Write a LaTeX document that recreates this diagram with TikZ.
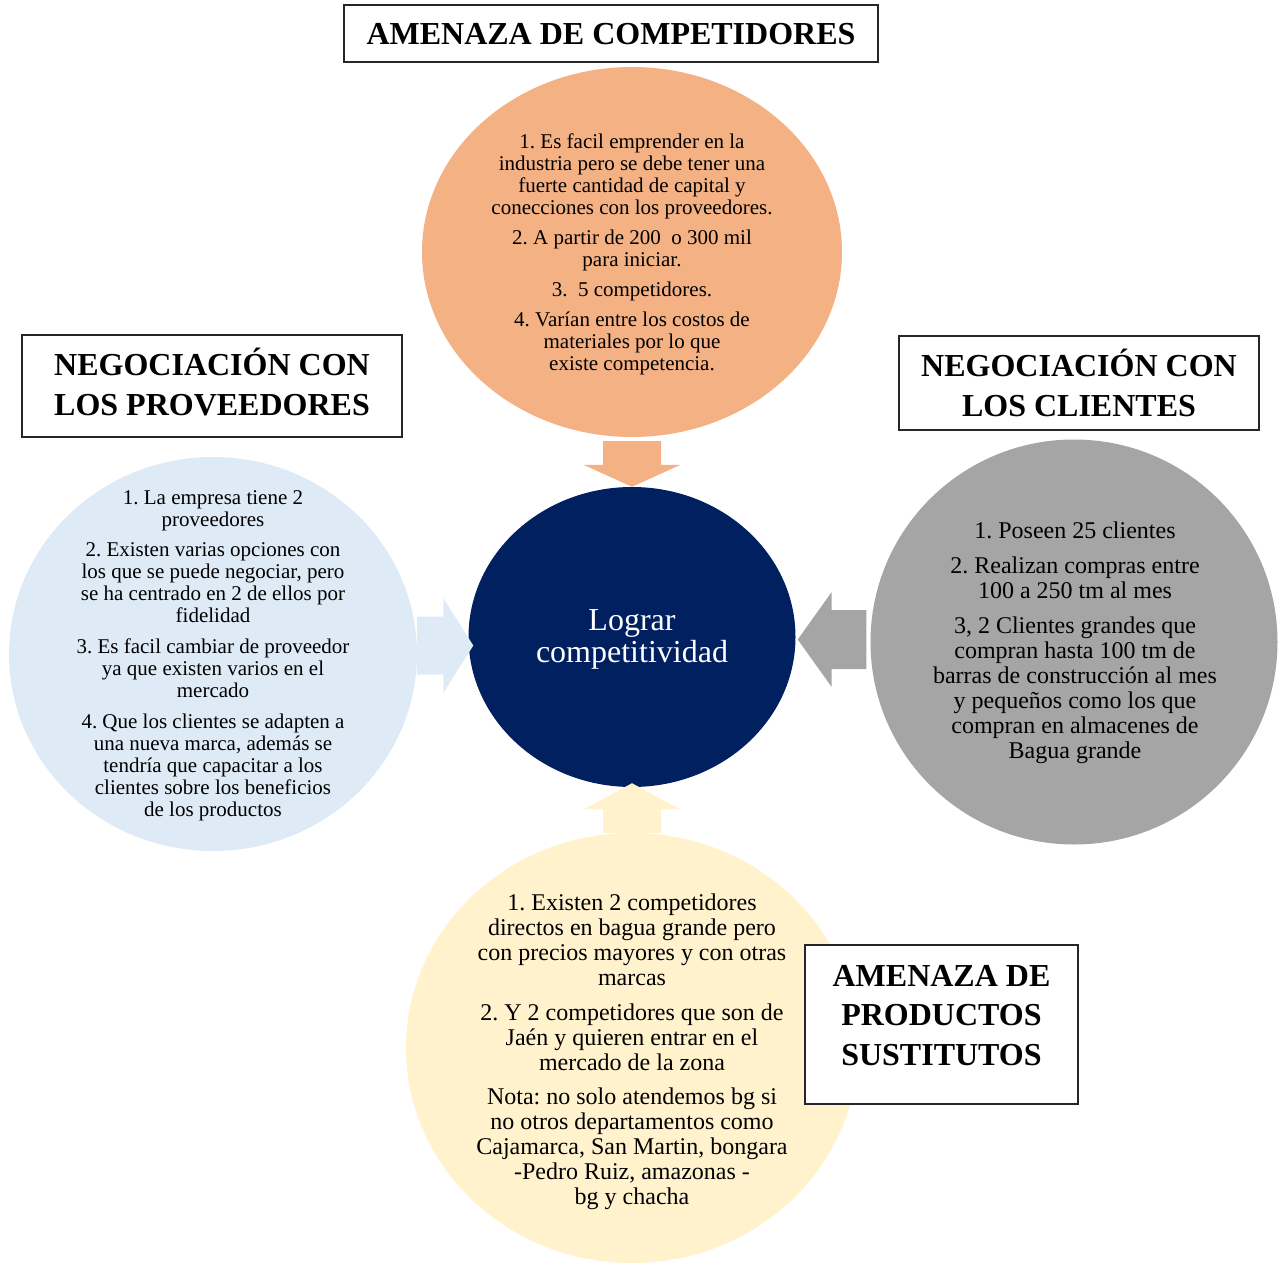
\documentclass[tikz,border=0pt]{standalone}
\usepackage{fontspec}
\setmainfont{Liberation Serif}
\usetikzlibrary{shapes.geometric,calc}
\frenchspacing

\definecolor{orangefill}{HTML}{F4B183}
\definecolor{bluefill}{HTML}{DEEBF7}
\definecolor{grayfill}{HTML}{A5A5A5}
\definecolor{creamfill}{HTML}{FFF2CC}
\definecolor{navyfill}{HTML}{002060}
\definecolor{framecol}{HTML}{262626}

% block arrow: #1 style, #2 start, #3 tip, #4 shaft half width, #5 head half width, #6 head length
\newcommand\blockarrow[6]{%
  \path (#2) coordinate (ba-s) ($(#3)!#6!(#2)$) coordinate (ba-h);
  \fill[#1] ($(ba-s)!#4!90:(ba-h)$) -- ($(ba-h)!#4!-90:(ba-s)$)
    -- ($(ba-h)!#5!-90:(ba-s)$) -- (#3) -- ($(ba-h)!#5!90:(ba-s)$)
    -- ($(ba-h)!#4!90:(ba-s)$) -- ($(ba-s)!#4!-90:(ba-h)$) -- cycle;
}

% multi-line texts are placed by the baseline of their last line
\tikzset{
  bubble/.style={ellipse, inner sep=0pt, draw=none},
  titlebox/.style={rectangle, draw=framecol, line width=1.2pt, fill=white, inner sep=0pt},
  titletext/.style={align=center, inner sep=0pt, anchor=base,
    font=\fontsize{32}{39.5}\selectfont\bfseries},
  body/.style={align=center, inner sep=0pt, anchor=base,
    font=\fontsize{21}{22}\selectfont},
  bodylg/.style={align=center, inner sep=0pt, anchor=base,
    font=\fontsize{24}{25}\selectfont},
}

\begin{document}
\begin{tikzpicture}[x=1pt,y=-1pt]
\useasboundingbox (0,0) rectangle (1286,1263);

% the five circles
\node[bubble, fill=orangefill, minimum width=420pt, minimum height=370pt] (amen) at (632,252) {};
\node[bubble, fill=bluefill, minimum width=408pt, minimum height=394pt] (prov) at (213,654) {};
\node[bubble, fill=grayfill, minimum width=407pt, minimum height=405pt] (clie) at (1074,642) {};
\node[bubble, fill=creamfill, minimum width=452pt, minimum height=430pt] (sust) at (632,1048) {};
\node[bubble, fill=navyfill, minimum width=327pt, minimum height=300pt] (logro) at (632,637) {};

% block arrows towards the centre
\blockarrow{orangefill}{[yshift=-4pt]amen.south}{logro.north}{29pt}{48.5pt}{22pt}
\blockarrow{creamfill}{sust.north}{[yshift=4pt]logro.south}{29pt}{48pt}{26pt}
\blockarrow{bluefill}{[yshift=8.5pt]prov.east}{[xshift=5pt,yshift=-8.5pt]logro.west}{29pt}{47.5pt}{30pt}
\blockarrow{grayfill}{[xshift=-4pt,yshift=2.5pt]clie.west}{[xshift=2pt,yshift=-2.5pt]logro.east}{29.5pt}{47.5pt}{34pt}

% centre label
\node[align=center, inner sep=0pt, anchor=base, text=white,
      font=\fontsize{32}{32}\selectfont] (logro-t) at (632,662)
  {Lograr\\ competitividad};

% circle texts
\node[body] (amen-t) at (632,370)
  {1. Es facil emprender en la\\ industria pero se debe tener una\\ fuerte cantidad de capital y\\ conecciones con los proveedores.\\[8pt]
   2. A partir de 200\ \ o 300 mil\\ para iniciar.\\[8pt]
   3.\ \ 5 competidores.\\[8pt]
   4. Varían entre los costos de\\ materiales por lo que\\ existe competencia.};

\node[body] (prov-t) at (213,816)
  {1. La empresa tiene 2\\ proveedores\\[8pt]
   2. Existen varias opciones con\\ los que se puede negociar, pero\\ se ha centrado en 2 de ellos por\\ fidelidad\\[9pt]
   3. Es facil cambiar de proveedor\\ ya que existen varios en el\\ mercado\\[9pt]
   4. Que los clientes se adapten a\\ una nueva marca, además se\\ tendría que capacitar a los\\ clientes sobre los beneficios\\ de los productos};

\node[bodylg] (clie-t) at (1075,758)
  {1. Poseen 25 clientes\\[10pt]
   2. Realizan compras entre\\ 100 a 250 tm al mes\\[10pt]
   3, 2 Clientes grandes que\\ compran hasta 100 tm de\\ barras de construcción al mes\\ y pequeños como los que\\ compran en almacenes de\\ Bagua grande};

\node[bodylg] (sust-t) at (632,1204)
  {1. Existen 2 competidores\\ directos en bagua grande pero\\ con precios mayores y con otras\\ marcas\\[10pt]
   2. Y 2 competidores que son de\\ Jaén y quieren entrar en el\\ mercado de la zona\\[9pt]
   Nota: no solo atendemos bg si\\ no otros departamentos como\\ Cajamarca, San Martin, bongara\\ -Pedro Ruiz, amazonas -\\ bg y chacha};

% title boxes
\node[titlebox, minimum width=534pt, minimum height=57pt] (tit-amen) at (611,33.5) {};
\node[titletext] at (611,44.5) {AMENAZA DE COMPETIDORES};

\node[titlebox, minimum width=380pt, minimum height=102pt] (tit-prov) at (212,386) {};
\node[titletext] at (212,415) {NEGOCIACIÓN CON\\ LOS PROVEEDORES};

\node[titlebox, minimum width=360pt, minimum height=94pt] (tit-clie) at (1079,383) {};
\node[titletext] at (1079,416) {NEGOCIACIÓN CON\\ LOS CLIENTES};

\node[titlebox, minimum width=273pt, minimum height=159pt] (tit-sust) at (941.5,1024.5) {};
\node[titletext] at (941.5,1065) {AMENAZA DE\\ PRODUCTOS\\ SUSTITUTOS};
\end{tikzpicture}
\end{document}
